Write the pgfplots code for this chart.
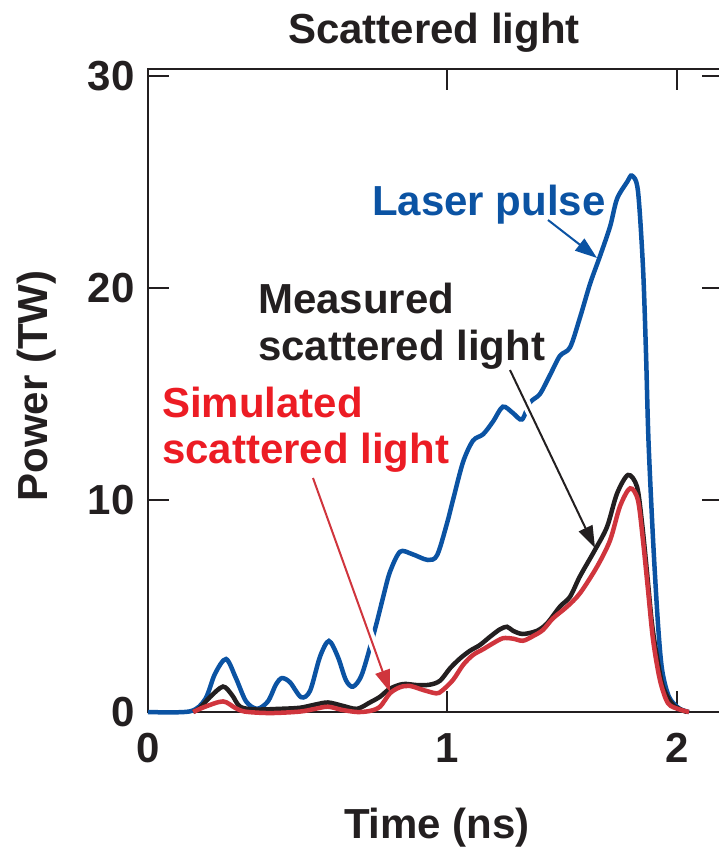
\documentclass[border=0pt]{standalone}
\usepackage{pgfplots}
\pgfplotsset{compat=1.18}
\usepackage{fontspec}
\setmainfont{Liberation Sans}
\usetikzlibrary{arrows.meta}
\definecolor{lblue}{RGB}{11,83,163}
\definecolor{lblack}{RGB}{35,31,32}
\definecolor{lred}{RGB}{208,53,61}
\definecolor{tred}{RGB}{236,28,36}
\newcommand{\bigfont}{\fontsize{42}{46}\selectfont\bfseries}

\begin{document}
\begin{tikzpicture}
\useasboundingbox (0pt,0pt) rectangle (719pt,-850pt);
\begin{axis}[
  at={(148pt,-712pt)}, anchor=south west,
  scale only axis, width=575pt, height=643pt,
  xmin=0, xmax=2.2, ymin=0, ymax=30.33,
  x coord trafo/.code={\pgfmathparse{ifthenelse(#1<1,#1,1+(#1-1)*0.76923)}},
  x coord inv trafo/.code={\pgfmathparse{ifthenelse(#1<1,#1,1+(#1-1)/0.76923)}},
  xtick={0,1,2}, xticklabels={0,1,2},
  ytick={0,10,20,30}, yticklabels={0,10,20,30},
  tick align=inside, major tick length=21pt,
  axis line style={line width=2.5pt, lblack},
  tick style={line width=2.5pt, lblack},
  tick label style={font=\bigfont, text=lblack},
  xticklabel style={yshift=-18pt},
  yticklabel style={xshift=-10pt},
  clip=false,
]
% Laser pulse
\addplot[lblue, line width=4.5pt, smooth, tension=0.5] table {
0.000 0.0
0.140 0.03
0.191 0.6
0.224 1.8
0.261 2.5
0.294 1.6
0.328 0.5
0.365 0.15
0.401 0.5
0.428 1.3
0.448 1.6
0.475 1.4
0.512 0.7
0.542 1.0
0.575 2.6
0.605 3.35
0.635 2.6
0.662 1.5
0.686 1.2
0.716 1.8
0.759 3.9
0.786 5.4
0.809 6.6
0.843 7.56
0.883 7.45
0.936 7.17
0.967 7.4
1.000 8.9
1.026 10.0
1.070 11.8
1.113 12.8
1.157 13.1
1.200 13.7
1.243 14.4
1.287 14.1
1.326 13.8
1.361 14.6
1.404 15.0
1.448 15.9
1.491 16.8
1.535 17.2
1.578 18.6
1.622 20.2
1.665 21.5
1.709 22.9
1.739 24.2
1.783 25.0
1.804 25.3
1.830 24.6
1.852 21.0
1.865 17.0
1.876 12.8
1.896 8.1
1.917 4.2
1.935 2.0
1.965 0.72
2.009 0.17
2.052 0.0
};
% Measured scattered light
\addplot[lblack, line width=4.5pt, smooth, tension=0.5] table {
0.151 0.0
0.174 0.2
0.207 0.7
0.251 1.2
0.281 0.8
0.308 0.25
0.358 0.12
0.441 0.15
0.508 0.2
0.559 0.35
0.602 0.45
0.649 0.3
0.699 0.15
0.742 0.45
0.776 0.72
0.809 1.1
0.853 1.32
0.900 1.27
0.943 1.29
0.977 1.48
1.013 2.06
1.057 2.53
1.100 2.89
1.143 3.16
1.187 3.55
1.230 3.9
1.261 4.02
1.287 3.83
1.330 3.68
1.391 3.83
1.435 4.18
1.491 4.97
1.535 5.44
1.578 6.4
1.643 7.64
1.696 8.74
1.739 10.3
1.787 11.18
1.826 10.63
1.848 8.9
1.870 6.54
1.891 4.18
1.913 2.6
1.939 1.19
1.983 0.33
2.043 0.0
};
% Simulated scattered light
\addplot[lred, line width=4.5pt, smooth, tension=0.5] table {
0.151 0.0
0.191 0.25
0.251 0.5
0.291 0.2
0.324 0.02
0.408 -0.05
0.508 0.02
0.559 0.15
0.602 0.25
0.649 0.1
0.699 0.0
0.742 0.05
0.776 0.25
0.809 0.88
0.843 1.17
0.876 1.23
0.920 1.04
0.964 0.88
0.983 1.0
1.026 1.51
1.070 2.22
1.113 2.69
1.157 2.96
1.200 3.24
1.243 3.48
1.287 3.46
1.330 3.36
1.374 3.58
1.417 3.87
1.461 4.42
1.522 4.97
1.578 5.6
1.652 6.85
1.709 8.1
1.752 9.7
1.796 10.55
1.830 10.0
1.852 8.1
1.874 5.75
1.896 3.4
1.926 1.5
1.961 0.41
2.009 0.13
2.052 0.0
};
\end{axis}
% titles and labels
\node[font=\bigfont, text=lblack, anchor=base] at (434pt,-44pt) {Scattered light};
\node[font=\bigfont, text=lblack, anchor=base] at (437pt,-838pt) {Time (ns)};
\node[font=\bigfont, text=lblack, anchor=base, rotate=90] at (47pt,-386pt) {Power (TW)};
% white gaps where arrows cross the laser curve
\draw[white, line width=9pt] (332pt,-531pt) -- (380pt,-663pt);
\draw[white, line width=9pt] (514pt,-378pt) -- (560pt,-474pt);
% arrows
\draw[lblue, line width=2pt, -{Triangle[length=22pt,width=15pt]}] (548pt,-220pt) -- (597pt,-258pt);
\draw[lblack, line width=2pt, -{Triangle[length=22pt,width=15pt]}] (510pt,-370pt) -- (595pt,-548pt);
\draw[lred, line width=2pt, -{Triangle[length=22pt,width=15pt]}] (313pt,-478pt) -- (390pt,-692pt);
% annotation texts
\node[font=\bigfont, text=lblue, anchor=base west, inner sep=0pt] at (372pt,-215pt) {Laser pulse};
\node[font=\bigfont, text=lblack, anchor=base west, inner sep=0pt] at (258pt,-313pt) {Measured};
\node[font=\bigfont, text=lblack, anchor=base west, inner sep=0pt] at (258pt,-360pt) {scattered light};
\node[font=\bigfont, text=tred, anchor=base west, inner sep=0pt] at (162pt,-417pt) {Simulated};
\node[font=\bigfont, text=tred, anchor=base west, inner sep=0pt] at (162pt,-463pt) {scattered light};
\end{tikzpicture}
\end{document}
